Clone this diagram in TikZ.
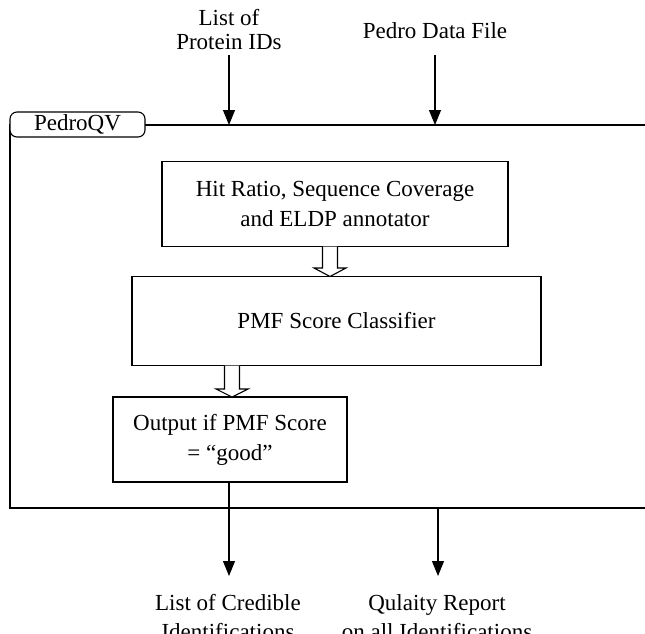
\documentclass[tikz,border=0pt]{standalone}
\usepackage{fontspec}
\setmainfont{Liberation Serif}
\usetikzlibrary{arrows.meta}
\begin{document}
\begin{tikzpicture}[x=1pt,y=-1pt,
  lbl/.style={align=center,font=\fontsize{23}{24}\selectfont,inner sep=0pt},
  lblb/.style={align=center,font=\fontsize{23}{29}\selectfont,inner sep=0pt},
  procbox/.style={draw,line width=1.1pt,align=center,font=\fontsize{23}{30}\selectfont,inner sep=0pt},
  flowarrow/.style={line width=1.1pt,-{Triangle[width=12pt,length=15pt]}},
  hollow/.style={draw,line width=1.1pt,fill=white,line join=miter}]
\useasboundingbox (0,0) rectangle (645,633);
% frame
\coordinate (ftl) at (10,125);
\coordinate (fbl) at (10,508);
\draw[line width=1.4pt] (645,125) -- (ftl) -- (fbl) -- (645,508);
\node[draw,line width=1.1pt,rounded corners=7pt,fill=white,minimum width=135pt,minimum height=25pt,inner sep=0pt,font=\fontsize{23}{24}\selectfont] (pq) at (77.5,124.5) {PedroQV};
% inputs
\node[lbl] (in1) at (229,30) {List of\\Protein IDs};
\node[lbl,anchor=base] (in2) at (435,38) {Pedro Data File};
\coordinate (t1) at (229,125);
\coordinate (t2) at (435,125);
\draw[flowarrow] (229,55) -- (t1);
\draw[flowarrow] (435,55) -- (t2);
% boxes
\node[procbox,minimum width=346pt,minimum height=85pt] (b1) at (335,204) {Hit Ratio, Sequence Coverage\\and ELDP annotator};
\node[procbox,minimum width=409pt,minimum height=89pt] (b2) at (336.5,321) {PMF Score Classifier};
\node[procbox,minimum width=234pt,minimum height=85pt] (b3) at (230,439.5) {Output if PMF Score\\= ``good''};
% hollow arrows
\draw[hollow] (322.5,246.5) -- (322.5,268) -- (314,268) -- (330,276.5) -- (346,268) -- (337.5,268) -- (337.5,246.5);
\draw[hollow] (224.5,365.5) -- (224.5,389) -- (216,389) -- (232,397) -- (248,389) -- (239.5,389) -- (239.5,365.5);
% outputs
\node[lblb,anchor=base] (o1) at (228,639) {List of Credible\\Identifications};
\node[lblb,anchor=base] (o2) at (437,639) {Qulaity Report\\on all Identifications};
\coordinate (e1) at (229,576);
\coordinate (e2) at (438,576);
\draw[flowarrow] (b3.south -| e1) -- (e1);
\draw[flowarrow] (438,508) -- (e2);
\end{tikzpicture}
\end{document}
